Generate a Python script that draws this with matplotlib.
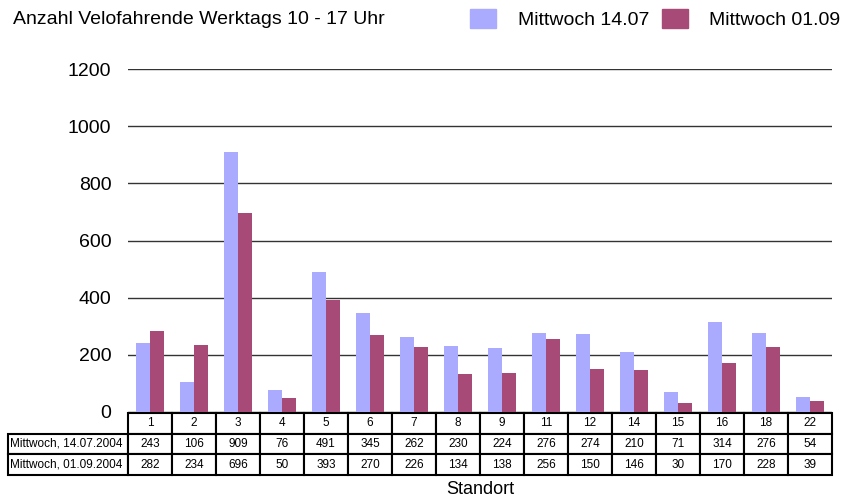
import numpy as np
import matplotlib.pyplot as plt
from matplotlib.patches import Patch

plt.rcParams['font.family'] = ['Liberation Sans', 'DejaVu Sans']

# data
standorte = ['1', '2', '3', '4', '5', '6', '7', '8', '9', '11', '12', '14', '15', '16', '18', '22']
juli = [243, 106, 909, 76, 491, 345, 262, 230, 224, 276, 274, 210, 71, 314, 276, 54]
sept = [282, 234, 696, 50, 393, 270, 226, 134, 138, 256, 150, 146, 30, 170, 228, 39]
row_labels = ['Mittwoch, 14.07.2004', 'Mittwoch, 01.09.2004']
legend_labels = ['Mittwoch 14.07', 'Mittwoch 01.09']
yticks = [0, 200, 400, 600, 800, 1000, 1200]

c_juli = '#aaaaff'
c_sept = '#a84a78'

fig = plt.figure(figsize=(8.48, 5.04), dpi=100)
ax = fig.add_axes([128 / 848, 1 - 412 / 504, 704 / 848, 343 / 504])

x = np.arange(len(standorte))
w = 0.31
ax.bar(x - w / 2, juli, w, color=c_juli, zorder=3)
ax.bar(x + w / 2, sept, w, color=c_sept, zorder=3)

ax.set_xlim(-0.5, len(standorte) - 0.5)
ax.set_ylim(0, 1200)
ax.set_yticks(yticks)
ax.set_yticklabels([str(t) for t in yticks], fontsize=14)
ax.tick_params(axis='y', length=0, pad=12)
ax.set_xticks([])
ax.grid(axis='y', color='#333333', linewidth=1.0, zorder=0)
for s in ax.spines.values():
    s.set_visible(False)

# data table below the axes
cell_text = [[''] + standorte,
             [row_labels[0]] + [str(v) for v in juli],
             [row_labels[1]] + [str(v) for v in sept]]
px_w = 704.0
col_w = [120 / px_w] + [44 / px_w] * len(standorte)
tab = ax.table(cellText=cell_text, colWidths=col_w, cellLoc='center',
               bbox=[-120 / px_w, -63 / 343, 824 / px_w, 62 / 343])
tab.auto_set_font_size(False)
tab.set_fontsize(8.5)
for (r, c), cell in tab.get_celld().items():
    cell.set_linewidth(1.5)
    if c == 0:
        cell.get_text().set_ha('left')
        cell.PAD = 0.015
        cell._loc = 'left'
    if r == 0 and c == 0:
        cell.visible_edges = ''

ax.text(0.5, -78 / 343, 'Standort', transform=ax.transAxes,
        ha='center', va='center', fontsize=13)

fig.text(13 / 848, 1 - 20 / 504, 'Anzahl Velofahrende Werktags 10 - 17 Uhr',
         ha='left', va='center', fontsize=14)

handles = [Patch(color=c_juli), Patch(color=c_sept)]
fig.legend(handles, legend_labels, ncol=2, loc='center right',
           bbox_to_anchor=(1.0, 1 - 19 / 504), frameon=False, fontsize=14,
           handlelength=1.34, handleheight=1.13, handletextpad=1.1,
           columnspacing=0.65, borderaxespad=0.3, borderpad=0.1)

fig.savefig('out.png', dpi=100)
